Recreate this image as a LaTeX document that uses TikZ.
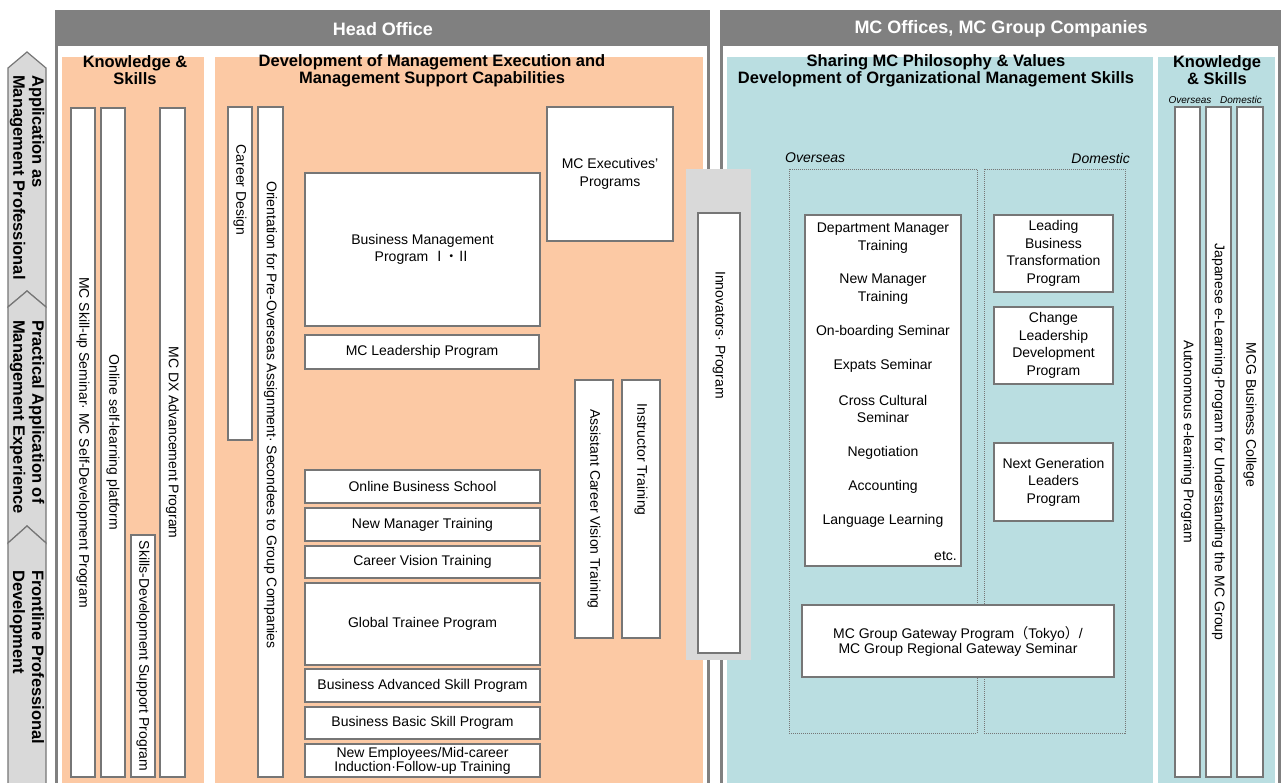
\documentclass[tikz,border=0pt]{standalone}
\usepackage{fontspec}
\setmainfont{Liberation Sans}
\newfontfamily\cjk{Noto Sans CJK JP}
\definecolor{hdr}{RGB}{128,128,128}
\definecolor{bord}{RGB}{118,118,118}
\definecolor{peach}{RGB}{252,201,164}
\definecolor{tealbg}{RGB}{186,222,225}
\definecolor{lgray}{RGB}{217,217,217}
\tikzset{
  box/.style={draw=bord, line width=1.8pt, fill=white, inner sep=0pt, align=center,
    font=\fontsize{14}{17.5}\selectfont},
  txt/.style={inner sep=0pt, align=center, font=\fontsize{14}{17.5}\selectfont},
  vtxt/.style={txt, rotate=-90},
  ttl/.style={inner sep=0pt, align=center, font=\bfseries\fontsize{16.5}{17}\selectfont},
  hdrtxt/.style={inner sep=0pt, text=white, font=\bfseries\fontsize{18}{20}\selectfont},
  chev/.style={draw=bord, line width=1.2pt, fill=lgray},
  chevtxt/.style={inner sep=0pt, rotate=-90, anchor=west, align=left,
    font=\bfseries\fontsize{16.5}{19}\selectfont},
  lab/.style={inner sep=0pt, font=\itshape\fontsize{14}{16}\selectfont},
  slab/.style={inner sep=0pt, font=\itshape\fontsize{10}{12}\selectfont},
  dotframe/.style={draw=bord, line width=0.8pt, dash pattern=on 1pt off 1pt},
  panel/.style={draw=hdr, line width=3pt, fill=white}
}
\newcommand\hb[6]{\node[box, minimum width={(#4-#2)*1pt}, minimum height={(#5-#3)*1pt}] (#1) at ({(#2+#4)/2},{(#3+#5)/2}) {#6};}
\newcommand\vb[6]{\node[box, rotate=-90, minimum width={(#5-#3)*1pt}, minimum height={(#4-#2)*1pt}] (#1) at ({(#2+#4)/2},{(#3+#5)/2}) {#6};}
\begin{document}
\begin{tikzpicture}[x=1pt,y=-1pt]
\useasboundingbox (0,0) rectangle (1281,783);
\fill[white] (0,0) rectangle (1281,783);
% panels
\draw[panel] (56.5,11.5) rectangle (708.5,800);
\fill[hdr] (56.5,10) rectangle (710,46);
\draw[panel] (721.5,11.5) rectangle (1279.5,800);
\fill[hdr] (720,10) rectangle (1281,46);
\node[hdrtxt] (ho) at (383,29) {Head Office};
\node[hdrtxt] (mco) at (1001,29) {MC Offices, MC Group Companies};
% coloured areas
\fill[peach] (62,57) rectangle (204,800);
\fill[peach] (215,57) rectangle (703,800);
\fill[tealbg] (727,57) rectangle (1153,800);
\fill[tealbg] (1158,57) rectangle (1275,800);
% chevron column
\draw[chev] (8,68) -- (27,52) -- (46,68) -- (46,307) -- (27,291) -- (8,307) -- cycle;
\draw[chev] (8,307) -- (27,291) -- (46,307) -- (46,543) -- (27,526) -- (8,543) -- cycle;
\draw[chev] (8,543) -- (27,526) -- (46,543) -- (46,800) -- (8,800) -- cycle;
\node[chevtxt] (c1) at (27,75) {Application as\\Management Professional};
\node[chevtxt] (c2) at (27,320) {Practical Application of\\Management Experience};
\node[chevtxt] (c3) at (27,570) {Frontline Professional\\Development};
% titles
\node[ttl] (t1) at (135,70.5) {Knowledge \&\\Skills};
\node[ttl] (t2) at (432,70.5) {Development of Management Execution and\\Management Support Capabilities};
\node[ttl] (t3) at (936,71) {Sharing MC Philosophy \& Values\\Development of Organizational Management Skills};
\node[ttl] (t4) at (1217,70.5) {Knowledge\\\& Skills};
% knowledge & skills (head office)
\vb{ks1}{71}{108}{95}{777}{MC Skill-up Seminar· MC Self-Development Program}
\vb{ks2}{101}{108}{125}{777}{Online self-learning platform}
\vb{ks3}{131}{535}{155}{777}{Skills-Development Support Program}
\vb{ks4}{160}{108}{185}{777}{MC DX Advancement Program}
% development
\vb{cd}{228}{107}{252}{440}{}
\node[vtxt] (cdt) at (240,190) {Career Design};
\vb{ori}{258}{107}{283}{777}{}
\node[vtxt] (orit) at (270.5,415) {Orientation for Pre-Overseas Assignment· Secondees to Group Companies};
\hb{bmp}{305}{173}{540}{326}{Business Management\\Program {\cjk Ⅰ\kern-2pt・\kern-2ptⅡ}}
\hb{exe}{547}{107}{673}{241}{MC Executives’\\Programs}
\hb{lead}{305}{335}{539}{369}{MC Leadership Program}
\vb{acv}{575}{380}{613}{638}{Assistant Career Vision Training}
\vb{ins}{622}{380}{660}{638}{}
\node[vtxt] (inst) at (641,459.5) {Instructor Training};
\hb{obs}{305}{470}{540}{503}{Online Business School}
\hb{nmt}{305}{508}{540}{541}{New Manager Training}
\hb{cvt}{305}{546}{540}{578}{Career Vision Training}
\hb{gtp}{305}{583}{540}{665}{Global Trainee Program}
\hb{bas}{305}{669}{540}{702}{Business Advanced Skill Program}
\hb{bbs}{305}{707}{540}{739}{Business Basic Skill Program}
\node[box, minimum width=235pt, minimum height=33pt, font=\fontsize{14}{13}\selectfont] (ne) at (422.5,760.5) {New Employees/Mid-career\\Induction·Follow-up Training};
% innovators
\fill[lgray] (686,169) rectangle (751,660);
\vb{inn}{698}{213}{740}{653}{}
\node[vtxt] (innt) at (719,335) {Innovators· Program};
% MC offices
\node[lab, anchor=west] (ovl) at (785,158) {Overseas};
\node[lab, anchor=east] (dol) at (1130,158) {Domestic};
\draw[dotframe] (789,169) rectangle (977,733);
\draw[dotframe] (984,169) rectangle (1125,733);
\hb{ovb}{805}{215}{961}{566}{}
\node[txt] (o1) at (883,238) {Department Manager\\Training};
\node[txt] (o2) at (883,289) {New Manager\\Training};
\node[txt] (o3) at (883,332) {On-boarding Seminar};
\node[txt] (o4) at (883,366) {Expats Seminar};
\node[txt] (o5) at (883,409) {Cross Cultural\\Seminar};
\node[txt] (o6) at (883,453) {Negotiation};
\node[txt] (o7) at (883,487) {Accounting};
\node[txt] (o8) at (883,521) {Language Learning};
\node[txt, anchor=east] (o9) at (957,556) {etc.};
\hb{lbt}{994}{215}{1113}{292}{Leading\\Business\\Transformation\\Program}
\hb{clp}{994}{307}{1113}{384}{Change\\Leadership\\Development\\Program}
\hb{ngl}{994}{443}{1113}{521}{Next Generation\\Leaders\\Program}
\node[box, minimum width=312pt, minimum height=72pt, font=\fontsize{14}{15}\selectfont] (gw) at (958,641) {MC Group Gateway Program{\cjk （}Tokyo{\cjk ）}/\\MC Group Regional Gateway Seminar};
% knowledge & skills (MC offices)
\node[slab] (kso) at (1190,100) {Overseas};
\node[slab] (ksd) at (1241,100) {Domestic};
\vb{ae}{1175}{107}{1200}{777}{Autonomous e-learning Program}
\vb{je}{1206}{107}{1231}{777}{Japanese e-Learning·Program for Understanding the MC Group}
\vb{mcg}{1237}{107}{1263}{777}{}
\node[vtxt] (mcgt) at (1250,415) {MCG Business College};
\end{tikzpicture}
\end{document}
